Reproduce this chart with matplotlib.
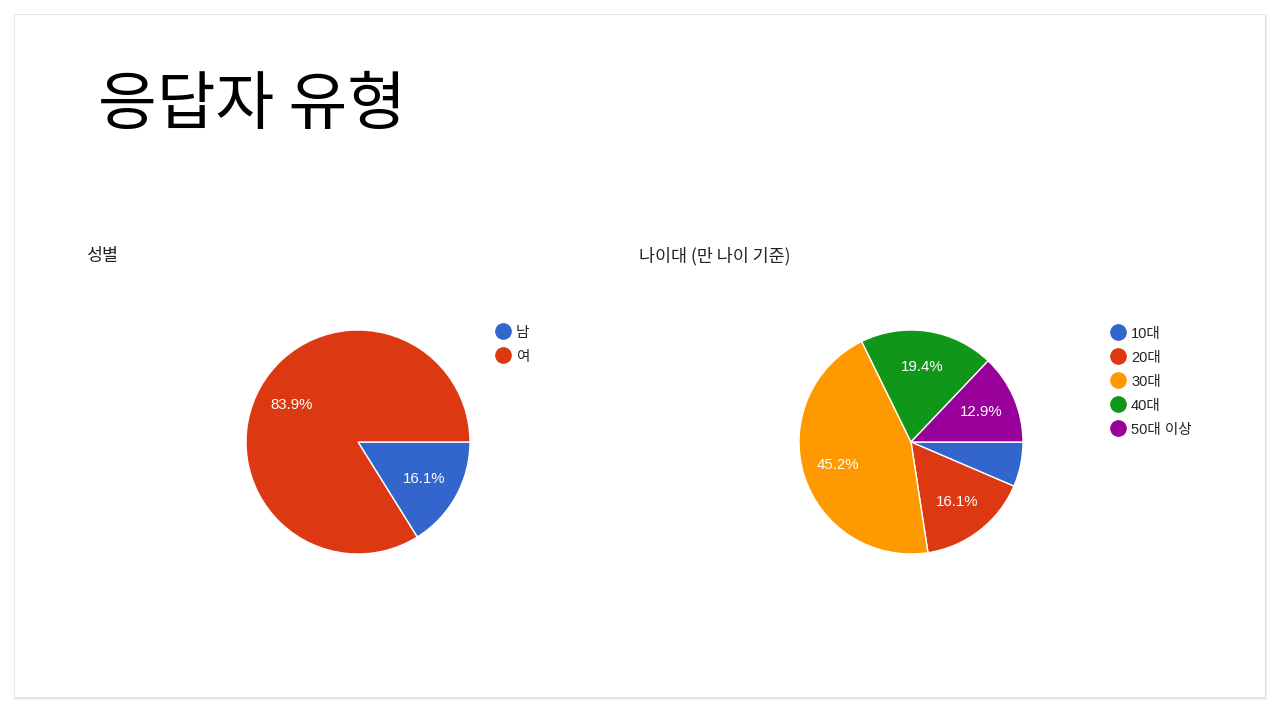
import matplotlib
matplotlib.use("Agg")
import matplotlib.pyplot as plt
from matplotlib.patches import Rectangle
from matplotlib.lines import Line2D

plt.rcParams['font.family'] = ['Noto Sans CJK KR', 'DejaVu Sans']

# Data (31 respondents)
gender_labels = ["남", "여"]
gender_counts = [5, 26]
gender_colors = ["#3366CC", "#DC3912"]

age_labels = ["10대", "20대", "30대", "40대", "50대 이상"]
age_counts = [2, 5, 14, 6, 4]
age_colors = ["#3366CC", "#DC3912", "#FF9900", "#109618", "#990099"]

W, H = 1280, 712
fig = plt.figure(figsize=(W / 100, H / 100), dpi=100)
fig.patch.set_facecolor("white")


def fx(px):
    return px / W


def fy(py):
    return 1 - py / H


# slide with soft shadow
for off, col in [(3, "#f2f2f2"), (2, "#e8e8e8"), (1, "#dedede")]:
    fig.patches.append(Rectangle((fx(15 - off / 2), fy(697 + off)), fx(1250 + off), (682 + off * 1.5) / H,
                                 transform=fig.transFigure, facecolor=col, edgecolor="none", zorder=-10))
fig.patches.append(Rectangle((fx(15), fy(697)), fx(1250), 682 / H,
                             transform=fig.transFigure, facecolor="white", edgecolor="none", zorder=-9))

fig.text(fx(98), fy(106), "응답자 유형", fontsize=46, color="black", va="center", ha="left")
fig.text(fx(86), fy(256), "성별", fontsize=12.5, color="#222222", va="center", ha="left")
fig.text(fx(639), fy(256), "나이대 (만 나이 기준)", fontsize=12.5, color="#222222", va="center", ha="left")

pct_family = ['Liberation Sans', 'Noto Sans CJK KR']


def draw_pie(cx, cy, r, counts, colors):
    ax = fig.add_axes([fx(cx - r), fy(cy + r), fx(2 * r), 2 * r / H])
    ax.patch.set_visible(False)

    def fmt(p):
        return f"{p:.1f}%" if p >= 10 else ""

    wedges, texts, autotexts = ax.pie(counts, colors=colors, startangle=0, counterclock=False,
                                      autopct=fmt, pctdistance=0.68, radius=1.0,
                                      wedgeprops=dict(edgecolor="white", linewidth=1))
    for t in autotexts:
        t.set_color("white")
        t.set_fontsize(10.8)
        t.set_family(pct_family)
    ax.set_xlim(-1, 1)
    ax.set_ylim(-1, 1)
    ax.set_aspect("equal")
    ax.axis("off")
    return ax


def draw_legend(x, y0, labels, colors, step=24):
    for i, (lab, col) in enumerate(zip(labels, colors)):
        yy = y0 + i * step
        fig.add_artist(Line2D([fx(x)], [fy(yy)], marker="o", markersize=11, color=col,
                              markeredgecolor=col, transform=fig.transFigure))
        fig.text(fx(x + 13), fy(yy + 2), lab, fontsize=10.5, color="#222222", va="center", ha="left",
                 family=pct_family)


draw_pie(358, 442, 112, gender_counts, gender_colors)
draw_legend(503, 331, gender_labels, gender_colors)

draw_pie(911, 442, 112, age_counts, age_colors)
draw_legend(1118, 332, age_labels, age_colors)

fig.savefig("out.png", dpi=100, facecolor=fig.get_facecolor())
